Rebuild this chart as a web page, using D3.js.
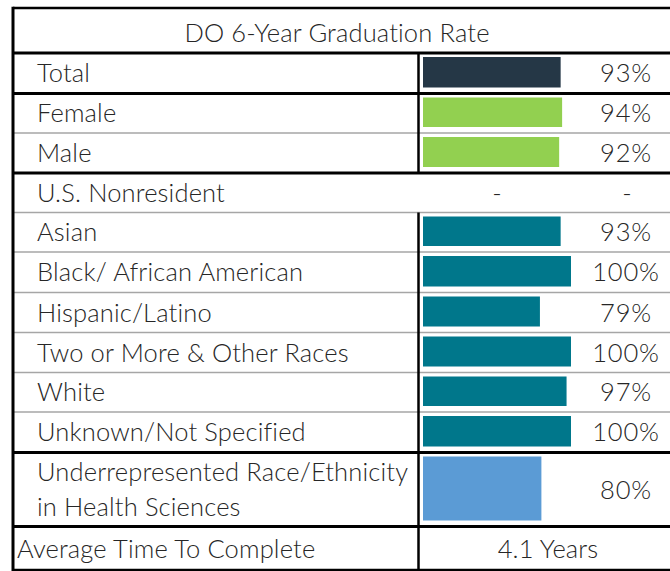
<!doctype html>
<html lang="en">
<head>
  <meta charset="utf-8">
  <title>DO 6-Year Graduation Rate</title>
  <style>
    body {
      margin: 0;
      background: #fff;
    }
    text {
      font-family: Lato, "Open Sans", sans-serif;
      font-weight: 300;
      font-size: 25.5px;
      letter-spacing: 0.15px;
      fill: #262626;
    }
  </style>
</head>
<body>
  <svg id="chart" width="670" height="571"></svg>
  <script src="https://d3js.org/d3.v7.min.js"></script>
  <script>
    var title = "DO 6-Year Graduation Rate"
    var categories = ["Total", "Female", "Male", "U.S. Nonresident", "Asian",
      "Black/ African American", "Hispanic/Latino", "Two or More & Other Races",
      "White", "Unknown/Not Specified",
      "Underrepresented Race/Ethnicity|in Health Sciences"]
    var groups = ["total", "gender", "gender", "race", "race", "race", "race",
      "race", "race", "race", "urm"]
    var rates = [93, 94, 92, null, 93, 100, 79, 100, 97, 100, 80]
    var footLabel = "Average Time To Complete"
    var footValue = "4.1 Years"

    var colors = {total: "#253746", gender: "#92d050", race: "#00778b", urm: "#5b9bd5"}

    // row heights (px) and which separator sits under each row
    var rowH = [40.5, 39.5, 40, 39.5, 39.5, 40.5, 40, 40, 39.5, 40.5, 74]
    var sepUnder = ["thick", "thin", "thick", "thin", "thin", "thin", "thin", "thin", "thin", "thick", "thick"]

    var svg = d3.select("#chart")
    var left = 13, right = 690, split = 418.5, tableTop = 8, titleBottom = 53
    var tops = [titleBottom].concat(Array.from(d3.cumsum(rowH), function(d) { return titleBottom + d }))
    var footTop = tops[tops.length - 1], footBottom = 570

    var x = d3.scaleLinear().domain([0, 100]).range([423, 571])

    // title
    svg.append("text")
      .attr("x", 337).attr("y", (tableTop + titleBottom) / 2 + 1)
      .attr("dominant-baseline", "central")
      .attr("text-anchor", "middle")
      .text(title)

    var rows = svg.selectAll("g.row")
      .data(categories)
      .enter().append("g")
      .attr("class", "row")
      .attr("transform", function(d, i) { return "translate(0," + tops[i] + ")" })

    rows.each(function(d, i) {
      var g = d3.select(this)
      var lines = d.split("|")
      var h = rowH[i]
      if (rates[i] != null) {
        g.append("rect")
          .attr("x", x(0))
          .attr("y", 4)
          .attr("width", x(rates[i]) - x(0))
          .attr("height", h - 10)
          .attr("fill", colors[groups[i]])
      }
      var lab = g.append("text")
      lines.forEach(function(s, j) {
        lab.append("tspan")
          .attr("x", 37)
          .attr("y", h / 2 - 1 + (j - (lines.length - 1) / 2) * 35)
          .attr("dominant-baseline", "central")
          .text(s)
      })
      if (rates[i] == null) {
        [x(50), 627].forEach(function(cx) {
          g.append("text")
            .attr("x", cx).attr("y", h / 2 - 1)
            .attr("dominant-baseline", "central")
            .attr("text-anchor", "middle")
            .text("-")
        })
      } else {
        g.append("text")
          .attr("x", 626).attr("y", h / 2 - 1)
          .attr("dominant-baseline", "central")
          .attr("text-anchor", "middle")
          .style("letter-spacing", "0.8px")
          .text(rates[i] + "%")
      }
    })

    // footer row
    svg.append("text")
      .attr("x", 17).attr("y", (footTop + footBottom) / 2)
      .attr("dominant-baseline", "central")
      .text(footLabel)
    svg.append("text")
      .attr("x", 548).attr("y", (footTop + footBottom) / 2)
      .attr("dominant-baseline", "central")
      .attr("text-anchor", "middle")
      .text(footValue)

    // grid lines
    svg.selectAll("line.sep")
      .data(sepUnder)
      .enter().append("line")
      .attr("class", "sep")
      .attr("x1", left).attr("x2", right)
      .attr("y1", function(d, i) { return tops[i + 1] })
      .attr("y2", function(d, i) { return tops[i + 1] })
      .attr("stroke", function(d) { return d == "thick" ? "#000" : "#a6a6a6" })
      .attr("stroke-width", function(d) { return d == "thick" ? 3 : 1.5 })

    svg.append("line")
      .attr("x1", left).attr("x2", right).attr("y1", titleBottom).attr("y2", titleBottom)
      .attr("stroke", "#000").attr("stroke-width", 3)
    svg.append("line")
      .attr("x1", left).attr("x2", right).attr("y1", tableTop).attr("y2", tableTop)
      .attr("stroke", "#000").attr("stroke-width", 2.5)
    svg.append("line")
      .attr("x1", left).attr("x2", right).attr("y1", footBottom).attr("y2", footBottom)
      .attr("stroke", "#000").attr("stroke-width", 2.5)
    svg.append("line")
      .attr("x1", left).attr("x2", left).attr("y1", tableTop - 1.25).attr("y2", footBottom + 1.25)
      .attr("stroke", "#000").attr("stroke-width", 3)

    // column divider, skipped on the nonresident row
    var nr = categories.indexOf("U.S. Nonresident")
    ;[[titleBottom, tops[nr]], [tops[nr + 1], footBottom]].forEach(function(seg) {
      svg.append("line")
        .attr("x1", split).attr("x2", split).attr("y1", seg[0]).attr("y2", seg[1])
        .attr("stroke", "#000").attr("stroke-width", 2.5)
    })
  </script>
</body>
</html>
